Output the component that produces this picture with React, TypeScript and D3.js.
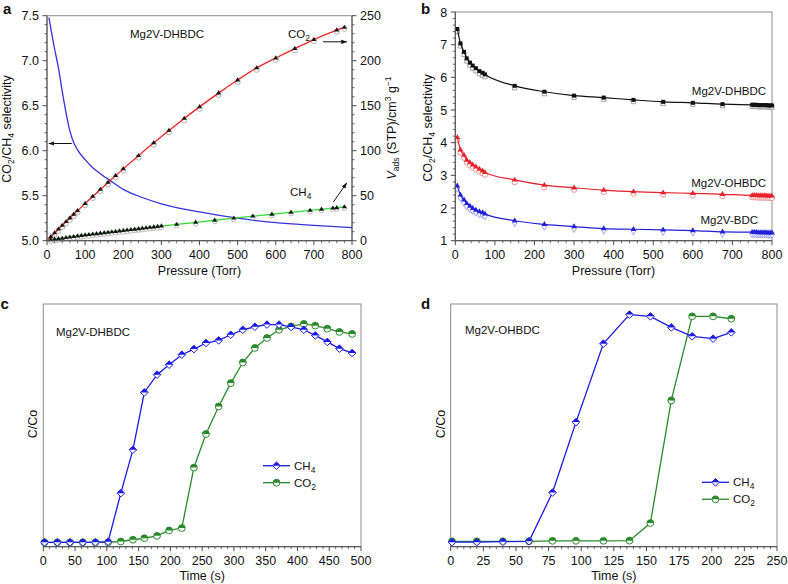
import React from "react";
import * as d3 from "d3";

const FONT = '"Liberation Sans", Arial, Helvetica, sans-serif';
const AXIS = "#4a4a4a";
const FRAME = "#8c8c8c";

type Pt = [number, number];
const zip = (xs: number[], ys: number[]): Pt[] => xs.map((x, i) => [x, ys[i]] as Pt);

// ---------------- Panel a ----------------
const aXTicks = [0, 100, 200, 300, 400, 500, 600, 700, 800];
const aYLeftTicks = [5.0, 5.5, 6.0, 6.5, 7.0, 7.5];
const aYRightTicks = [0, 50, 100, 150, 200, 250];

const aSelP = [5, 10, 15, 20, 30, 40, 50, 60, 70, 80, 100, 120, 140, 165, 200, 250, 300, 400, 500, 600, 700, 800];
const aSel = [7.48, 7.36, 7.24, 7.13, 6.92, 6.66, 6.42, 6.22, 6.09, 6.01, 5.9, 5.81, 5.745, 5.67, 5.57, 5.48, 5.41, 5.32, 5.25, 5.2, 5.17, 5.145];

const aCO2P = [10, 20, 30, 40, 50, 60, 70, 80, 100, 120, 140, 160, 180, 200, 240, 280, 320, 360, 400, 450, 500, 550, 600, 650, 700, 760, 780];
const aCO2Ads = [4.3, 8.6, 12.8, 17.0, 21.1, 25.2, 29.3, 33.3, 41.3, 49.2, 57.0, 64.7, 72.3, 79.8, 94.5, 108.8, 122.5, 135.8, 148.7, 164.0, 178.5, 192.0, 203.0, 213.5, 223.5, 234.0, 237.0];
const aCO2Des = [2.6, 6.8, 11.0, 15.2, 19.3, 23.4, 27.5, 31.5, 39.4, 47.3, 55.0, 62.7, 70.3, 77.8, 92.4, 106.7, 120.4, 133.7, 146.6, 161.9, 176.4, 190.0, 201.0, 211.5, 221.7, 232.2, 235.4];

const aCH4P = [10, 20, 30, 40, 50, 60, 70, 80, 90, 100, 110, 120, 130, 140, 150, 160, 170, 180, 190, 200, 210, 220, 230, 240, 250, 260, 270, 280, 290, 300, 340, 390, 440, 490, 540, 590, 640, 690, 720, 750, 760, 780];
const aCH4Ads = [0.8, 1.5, 2.1, 2.7, 3.3, 3.9, 4.5, 5.1, 5.7, 6.2, 6.7, 7.2, 7.7, 8.2, 8.7, 9.2, 9.7, 10.2, 10.7, 11.2, 11.7, 12.2, 12.7, 13.2, 13.7, 14.2, 14.7, 15.2, 15.7, 16.2, 18.1, 20.4, 22.7, 25.0, 27.2, 29.4, 31.5, 33.6, 34.9, 36.1, 36.6, 37.5];
const aCH4Des = [-0.4, 0.2, 0.8, 1.4, 2.0, 2.6, 3.2, 3.8, 4.4, 4.9, 5.4, 5.9, 6.4, 6.9, 7.4, 7.9, 8.4, 8.9, 9.4, 9.9, 10.4, 10.9, 11.4, 11.9, 12.4, 12.9, 13.4, 13.9, 14.4, 14.9, 16.8, 19.1, 21.4, 23.7, 25.9, 28.1, 30.2, 32.3, 33.6, 34.8, 35.3, 36.2];

// ---------------- Panel b ----------------
const bXTicks = [0, 100, 200, 300, 400, 500, 600, 700, 800];
const bYTicks = [1, 2, 3, 4, 5, 6, 7, 8];
const bP = [5, 13, 22, 29, 37, 44, 52, 61, 69, 75, 150, 225, 300, 375, 450, 525, 600, 675, 750, 755, 760, 765, 770, 775, 780, 785, 790, 795, 800];
const bDHBDC = [7.48, 7.04, 6.78, 6.58, 6.45, 6.36, 6.28, 6.19, 6.14, 6.09, 5.74, 5.56, 5.44, 5.38, 5.31, 5.25, 5.22, 5.18, 5.16, 5.16, 5.16, 5.15, 5.15, 5.15, 5.15, 5.15, 5.14, 5.14, 5.14];
const bDHBDCDes = [7.4, 6.96, 6.7, 6.5, 6.37, 6.28, 6.2, 6.11, 6.06, 6.02, 5.68, 5.5, 5.39, 5.33, 5.26, 5.2, 5.17, 5.13, 5.11, 5.11, 5.11, 5.1, 5.1, 5.1, 5.1, 5.1, 5.09, 5.09, 5.09];
const bOHBDC = [4.16, 3.78, 3.62, 3.47, 3.39, 3.32, 3.26, 3.19, 3.14, 3.09, 2.86, 2.7, 2.62, 2.55, 2.5, 2.47, 2.45, 2.42, 2.39, 2.39, 2.39, 2.38, 2.38, 2.38, 2.38, 2.38, 2.37, 2.37, 2.37];
const bOHBDCDes = [4.08, 3.7, 3.54, 3.39, 3.31, 3.24, 3.18, 3.11, 3.06, 3.02, 2.79, 2.63, 2.56, 2.49, 2.44, 2.41, 2.39, 2.36, 2.33, 2.33, 2.33, 2.32, 2.32, 2.32, 2.32, 2.32, 2.31, 2.31, 2.31];
const bBDC = [2.68, 2.4, 2.25, 2.14, 2.06, 1.99, 1.94, 1.89, 1.86, 1.82, 1.61, 1.5, 1.43, 1.37, 1.35, 1.33, 1.31, 1.27, 1.26, 1.26, 1.26, 1.25, 1.25, 1.25, 1.25, 1.25, 1.24, 1.24, 1.24];
const bBDCDes = [2.6, 2.32, 2.17, 2.06, 1.98, 1.92, 1.87, 1.82, 1.79, 1.75, 1.55, 1.44, 1.37, 1.32, 1.3, 1.28, 1.26, 1.22, 1.21, 1.21, 1.21, 1.2, 1.2, 1.2, 1.2, 1.2, 1.19, 1.19, 1.19];

// ---------------- Panel c ----------------
const cXTicks = [0, 50, 100, 150, 200, 250, 300, 350, 400, 450, 500];
const cT = [2, 22, 42, 62, 82, 102, 122, 141, 159, 179, 198, 218, 237, 256, 276, 295, 314, 333, 352, 371, 390, 410, 428, 447, 466, 486];
const cCH4 = [0, 0, 0, 0, 0, 0.003, 0.227, 0.427, 0.692, 0.774, 0.82, 0.866, 0.892, 0.92, 0.932, 0.958, 0.981, 0.995, 1.005, 1.005, 0.994, 0.981, 0.955, 0.925, 0.894, 0.874];
const cCO2 = [0, 0, 0, 0, 0, 0, 0.004, 0.012, 0.019, 0.03, 0.055, 0.066, 0.345, 0.5, 0.627, 0.735, 0.83, 0.897, 0.943, 0.981, 0.997, 1.008, 1.0, 0.986, 0.971, 0.962];

// ---------------- Panel d ----------------
const dXTicks = [0, 25, 50, 75, 100, 125, 150, 175, 200, 225, 250];
const dT = [1, 20, 40, 60, 78, 96, 117, 137, 153, 169, 185, 201, 215];
const dCH4 = [0.001, 0.001, 0.003, 0.005, 0.23, 0.555, 0.917, 1.051, 1.043, 0.992, 0.951, 0.94, 0.969];
const dCO2 = [0.005, 0.005, 0.005, 0.005, 0.007, 0.007, 0.007, 0.008, 0.089, 0.655, 1.043, 1.043, 1.032];

// ---------------- scales ----------------
const xA = d3.scaleLinear().domain([0, 800]).range([47, 352]);
const yAL = d3.scaleLinear().domain([5, 7.5]).range([240.7, 15.7]);
const yAR = d3.scaleLinear().domain([0, 250]).range([240.7, 15.7]);
const xB = d3.scaleLinear().domain([0, 800]).range([455.3, 772]);
const yB = d3.scaleLinear().domain([1, 8]).range([240.7, 12]);
const xC = d3.scaleLinear().domain([0, 500]).range([43.3, 361]);
const yC = d3.scaleLinear().domain([-0.02, 1.1]).range([546.7, 304]);
const xD = d3.scaleLinear().domain([0, 250]).range([450.7, 777]);
const yD = d3.scaleLinear().domain([-0.02, 1.1]).range([546.7, 304]);

const minorTicks = (lo: number, hi: number, step: number, major: number[]) =>
  d3.range(lo, hi + step / 2, step).filter((v) => !major.some((m) => Math.abs(m - v) < step / 10));

type Sc = d3.ScaleLinear<number, number>;

function mkLine(x: Sc, y: Sc, curve: d3.CurveFactory = d3.curveMonotoneX) {
  return d3.line<Pt>().x((d) => x(d[0])).y((d) => y(d[1])).curve(curve);
}

function XAxis({ x, y, major, minor, labelY }: { x: Sc; y: number; major: number[]; minor: number[]; labelY: number }) {
  return (
    <g>
      <line x1={x.range()[0]} x2={x.range()[1]} y1={y} y2={y} stroke={AXIS} strokeWidth={1} />
      {minor.map((v) => (
        <line key={"m" + v} x1={x(v)} x2={x(v)} y1={y} y2={y + 2.5} stroke={AXIS} strokeWidth={0.8} />
      ))}
      {major.map((v) => (
        <line key={"M" + v} x1={x(v)} x2={x(v)} y1={y} y2={y + 4.5} stroke={AXIS} strokeWidth={1} />
      ))}
      {major.map((v) => (
        <text key={"t" + v} x={x(v)} y={labelY} textAnchor="middle" fontSize={12.5}>
          {String(v)}
        </text>
      ))}
    </g>
  );
}

function YAxis({ y, x, major, minor, fmt, side }: { y: Sc; x: number; major: number[]; minor: number[]; fmt: (v: number) => string; side: "left" | "right" }) {
  const s = side === "left" ? -1 : 1;
  return (
    <g>
      <line x1={x} x2={x} y1={y.range()[0]} y2={y.range()[1]} stroke={AXIS} strokeWidth={1} />
      {minor.map((v) => (
        <line key={"m" + v} x1={x} x2={x + s * 2.5} y1={y(v)} y2={y(v)} stroke={AXIS} strokeWidth={0.8} />
      ))}
      {major.map((v) => (
        <line key={"M" + v} x1={x} x2={x + s * 4.5} y1={y(v)} y2={y(v)} stroke={AXIS} strokeWidth={1} />
      ))}
      {major.map((v) => (
        <text key={"t" + v} x={x + s * 8} y={y(v) + 4.5} textAnchor={side === "left" ? "end" : "start"} fontSize={12.5}>
          {fmt(v)}
        </text>
      ))}
    </g>
  );
}

function Frame({ x, y }: { x: Sc; y: Sc }) {
  const [x0, x1] = x.range();
  const [y0, y1] = y.range();
  return <rect x={x0} y={y1} width={x1 - x0} height={y0 - y1} fill="none" stroke={FRAME} strokeWidth={1} />;
}

const sym = (type: d3.SymbolType, size: number) => d3.symbol().type(type).size(size)() as string;

function HalfDiamond({ cx, cy, color }: { cx: number; cy: number; color: string }) {
  const r = 3.8;
  return (
    <g>
      <path d={`M${cx - r},${cy}L${cx},${cy - r}L${cx + r},${cy}L${cx},${cy + r}Z`} fill="#fff" stroke={color} strokeWidth={1} />
      <path d={`M${cx - r},${cy}L${cx},${cy - r}L${cx + r},${cy}Z`} fill={color} />
    </g>
  );
}
function HalfCircle({ cx, cy, color }: { cx: number; cy: number; color: string }) {
  const r = 3.4;
  return (
    <g>
      <circle cx={cx} cy={cy} r={r} fill="#fff" stroke={color} strokeWidth={1} />
      <path d={`M${cx - r},${cy}A${r},${r} 0 0 1 ${cx + r},${cy}Z`} fill={color} />
    </g>
  );
}

const Sub = ({ children, size = 8.5 }: { children: React.ReactNode; size?: number }) => (
  <tspan fontSize={size} dy={3}>
    {children}
  </tspan>
);

function PanelA() {
  const sel = zip(aSelP, aSel);
  const co2 = zip(aCO2P, aCO2Ads);
  const co2d = zip(aCO2P, aCO2Des);
  const ch4 = zip(aCH4P, aCH4Ads);
  const ch4d = zip(aCH4P, aCH4Des);
  const lineL = mkLine(xA, yAL, d3.curveMonotoneX);
  const lineR = mkLine(xA, yAR, d3.curveMonotoneX);
  const tri = sym(d3.symbolTriangle, 10);
  return (
    <g>
      <Frame x={xA} y={yAL} />
      <path d={lineL(sel) as string} fill="none" stroke="#3333dd" strokeWidth={1.3} />
      {co2d.map((d, i) => (
        <circle key={"cd" + i} cx={xA(d[0])} cy={yAR(d[1])} r={2.6} fill="#fff" stroke="#a0a0a0" strokeWidth={0.8} />
      ))}
      {ch4d.map((d, i) => (
        <circle key={"hd" + i} cx={xA(d[0])} cy={yAR(d[1])} r={2.4} fill="#fff" stroke="#a8a8a8" strokeWidth={0.8} />
      ))}
      <path d={lineR([[0, 0] as Pt, ...co2]) as string} fill="none" stroke="#ee2222" strokeWidth={1.3} />
      <path d={lineR([[0, 0] as Pt, ...ch4]) as string} fill="none" stroke="#33dd33" strokeWidth={1.3} />
      {co2.map((d, i) => (
        <path key={"c" + i} d={tri} transform={`translate(${xA(d[0])},${yAR(d[1])})`} fill="#111" />
      ))}
      {ch4.map((d, i) => (
        <path key={"h" + i} d={tri} transform={`translate(${xA(d[0])},${yAR(d[1])})`} fill="#111" />
      ))}
      <XAxis x={xA} y={240.7} major={aXTicks} minor={minorTicks(0, 800, 20, aXTicks)} labelY={258.5} />
      <YAxis y={yAL} x={47} major={aYLeftTicks} minor={minorTicks(5, 7.5, 0.1, aYLeftTicks)} fmt={d3.format(".1f")} side="left" />
      <YAxis y={yAR} x={352} major={aYRightTicks} minor={minorTicks(0, 250, 10, aYRightTicks)} fmt={(v) => String(v)} side="right" />
      {/* annotations */}
      <line x1={xA(65)} x2={xA(5)} y1={yAL(6.08)} y2={yAL(6.08)} stroke="#111" strokeWidth={1} markerEnd="url(#arr)" />
      <line x1={xA(724)} x2={xA(786)} y1={yAR(221)} y2={yAR(221)} stroke="#111" strokeWidth={1} markerEnd="url(#arr)" />
      <line x1={xA(751)} x2={xA(786)} y1={yAR(43)} y2={yAR(64)} stroke="#111" strokeWidth={1} markerEnd="url(#arr)" />
      <text x={130} y={37.5} fontSize={11.5}>Mg2V-DHBDC</text>
      <text x={288} y={37.5} fontSize={11.5}>
        CO<Sub>2</Sub>
      </text>
      <text x={290} y={196} fontSize={11.5}>
        CH<Sub>4</Sub>
      </text>
      <text x={199.5} y={275} textAnchor="middle" fontSize={12.5}>Pressure (Torr)</text>
      <text transform="translate(11,129) rotate(-90)" textAnchor="middle" fontSize={12.5}>
        CO<Sub>2</Sub>
        <tspan dy={-3}>/CH</tspan>
        <Sub>4</Sub>
        <tspan dy={-3}> selectivity</tspan>
      </text>
      <text transform="translate(396,128) rotate(-90)" textAnchor="middle" fontSize={12.5}>
        <tspan fontStyle="italic">V</tspan>
        <tspan fontSize={8.5} dy={3}>ads</tspan>
        <tspan dy={-3}> (STP)/cm</tspan>
        <tspan fontSize={8.5} dy={-5}>3</tspan>
        <tspan dy={5}> g</tspan>
        <tspan fontSize={8.5} dy={-5}>−1</tspan>
      </text>
      <text x={3} y={14} fontSize={15} fontWeight="bold">a</text>
    </g>
  );
}

function PanelB() {
  const line = mkLine(xB, yB, d3.curveMonotoneX);
  const series = [
    { ads: bDHBDC, des: bDHBDCDes, color: "#111", light: "#999", fm: d3.symbolSquare, om: "square" },
    { ads: bOHBDC, des: bOHBDCDes, color: "#e8202a", light: "#f08a8a", fm: d3.symbolTriangle, om: "circle" },
    { ads: bBDC, des: bBDCDes, color: "#2020d8", light: "#9a9af5", fm: d3.symbolTriangle, om: "diamond" },
  ];
  return (
    <g>
      <Frame x={xB} y={yB} />
      {series.map((s, k) => {
        const ads = zip(bP, s.ads);
        const des = zip(bP, s.des);
        const fpath = sym(s.fm, s.fm === d3.symbolSquare ? 16 : 14);
        const opath =
          s.om === "square" ? sym(d3.symbolSquare, 18) : s.om === "circle" ? sym(d3.symbolCircle, 22) : sym(d3.symbolDiamond, 18);
        return (
          <g key={k}>
            {des.map((d, i) => (
              <path key={"o" + i} d={opath} transform={`translate(${xB(d[0])},${yB(d[1])})`} fill="#fff" stroke={s.light} strokeWidth={0.9} />
            ))}
            <path d={line(ads) as string} fill="none" stroke={s.color} strokeWidth={1.2} />
            {ads.map((d, i) => (
              <path key={"f" + i} d={fpath} transform={`translate(${xB(d[0])},${yB(d[1])})`} fill={s.color} />
            ))}
          </g>
        );
      })}
      <XAxis x={xB} y={240.7} major={bXTicks} minor={minorTicks(0, 800, 20, bXTicks)} labelY={258.5} />
      <YAxis y={yB} x={455.3} major={bYTicks} minor={minorTicks(1, 8, 0.2, bYTicks)} fmt={(v) => String(v)} side="left" />
      <text x={766} y={94.5} textAnchor="end" fontSize={11.5}>Mg2V-DHBDC</text>
      <text x={766} y={187} textAnchor="end" fontSize={11.5}>Mg2V-OHBDC</text>
      <text x={758} y={224} textAnchor="end" fontSize={11.5}>Mg2V-BDC</text>
      <text x={613.5} y={275} textAnchor="middle" fontSize={12.5}>Pressure (Torr)</text>
      <text transform="translate(432,128) rotate(-90)" textAnchor="middle" fontSize={12.5}>
        CO<Sub>2</Sub>
        <tspan dy={-3}>/CH</tspan>
        <Sub>4</Sub>
        <tspan dy={-3}> selectivity</tspan>
      </text>
      <text x={421} y={14} fontSize={15} fontWeight="bold">b</text>
    </g>
  );
}

function Breakthrough({
  x, y, t, ch4, co2, ticks, minorStep, title, titleX, titleY, legX, legY, label, labelX, ylabX, blue, green,
}: {
  x: Sc; y: Sc; t: number[]; ch4: number[]; co2: number[]; ticks: number[]; minorStep: number; title: string; titleX: number; titleY: number;
  legX: number; legY: number; label: string; labelX: number; ylabX: number; blue: string; green: string;
}) {
  const line = mkLine(x, y, d3.curveLinear);
  const a = zip(t, ch4);
  const b = zip(t, co2);
  const [x0, x1] = x.range();
  const cx = (x0 + x1) / 2;
  return (
    <g>
      <Frame x={x} y={y} />
      <path d={line(b) as string} fill="none" stroke={green} strokeWidth={1.3} />
      {b.map((d, i) => (
        <HalfCircle key={"g" + i} cx={x(d[0])} cy={y(d[1])} color={green} />
      ))}
      <path d={line(a) as string} fill="none" stroke={blue} strokeWidth={1.3} />
      {a.map((d, i) => (
        <HalfDiamond key={"b" + i} cx={x(d[0])} cy={y(d[1])} color={blue} />
      ))}
      <XAxis x={x} y={546.7} major={ticks} minor={minorTicks(ticks[0], ticks[ticks.length - 1], minorStep, ticks)} labelY={565} />
      <text x={titleX} y={titleY} fontSize={11.5}>{title}</text>
      <g>
        <line x1={legX} x2={legX + 27} y1={legY} y2={legY} stroke={blue} strokeWidth={1.3} />
        <HalfDiamond cx={legX + 13.5} cy={legY} color={blue} />
        <text x={legX + 31} y={legY + 4} fontSize={11.5}>
          CH<Sub>4</Sub>
        </text>
        <line x1={legX} x2={legX + 27} y1={legY + 17} y2={legY + 17} stroke={green} strokeWidth={1.3} />
        <HalfCircle cx={legX + 13.5} cy={legY + 17} color={green} />
        <text x={legX + 31} y={legY + 21} fontSize={11.5}>
          CO<Sub>2</Sub>
        </text>
      </g>
      <text x={cx} y={580} textAnchor="middle" fontSize={12.5}>Time (s)</text>
      <text transform={`translate(${ylabX},424) rotate(-90)`} textAnchor="middle" fontSize={12.5}>C/Co</text>
      <text x={labelX} y={308.5} fontSize={15} fontWeight="bold">{label}</text>
    </g>
  );
}

export default function App() {
  return (
    <svg
      width={788}
      height={584}
      viewBox="0 0 788 584"
      style={{ position: "absolute", left: 0, top: 0, background: "#fff" }}
      fontFamily={FONT}
      fill="#111"
    >
      <defs>
        <marker id="arr" viewBox="0 0 10 10" refX={9} refY={5} markerWidth={6} markerHeight={6} orient="auto">
          <path d="M0,1.5 L10,5 L0,8.5 z" fill="#111" />
        </marker>
      </defs>
      <rect x={0} y={0} width={788} height={584} fill="#fff" />
      <PanelA />
      <PanelB />
      <Breakthrough
        x={xC} y={yC} t={cT} ch4={cCH4} co2={cCO2} ticks={cXTicks} minorStep={10}
        title="Mg2V-DHBDC" titleX={56} titleY={336} legX={263} legY={465.7}
        label="c" labelX={0.5} ylabX={37} blue="#1a1ae6" green="#2a8a2a"
      />
      <Breakthrough
        x={xD} y={yD} t={dT} ch4={dCH4} co2={dCO2} ticks={dXTicks} minorStep={5}
        title="Mg2V-OHBDC" titleX={465} titleY={333.5} legX={702} legY={482.3}
        label="d" labelX={421} ylabX={445} blue="#1a1ae6" green="#2a8a2a"
      />
    </svg>
  );
}
